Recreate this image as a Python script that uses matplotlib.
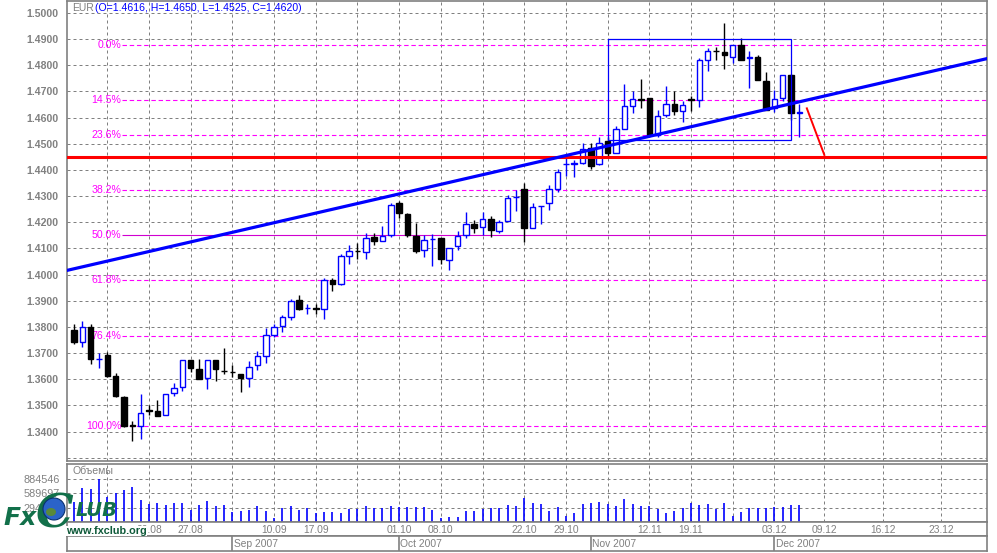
import matplotlib
matplotlib.use('Agg')
import matplotlib.pyplot as plt
from matplotlib.patches import Rectangle, Ellipse
import pandas as pd

plt.rcParams['font.family'] = ['Liberation Sans', 'DejaVu Sans']

# daily EUR bars, 07.08.2007 - 06.12.2007
dates = pd.bdate_range('2007-08-07', '2007-12-06')
opens = [1.3787, 1.3742, 1.3800, 1.3676, 1.3691, 1.3614, 1.3531, 1.3425, 1.3423, 1.3482,
         1.3477, 1.3464, 1.3548, 1.3570, 1.3674, 1.3640, 1.3605, 1.3674, 1.3632, 1.3629,
         1.3621, 1.3606, 1.3653, 1.3688, 1.3770, 1.3802, 1.3838, 1.3902, 1.3872, 1.3871,
         1.3870, 1.3981, 1.3962, 1.4071, 1.4090, 1.4087, 1.4144, 1.4129, 1.4151, 1.4275,
         1.4231, 1.4148, 1.4093, 1.4135, 1.4140, 1.4057, 1.4109, 1.4151, 1.4195, 1.4180,
         1.4212, 1.4167, 1.4206, 1.4296, 1.4327, 1.4179, 1.4261, 1.4272, 1.4326, 1.4423,
         1.4424, 1.4428, 1.4484, 1.4421, 1.4511, 1.4466, 1.4556, 1.4645, 1.4672, 1.4673,
         1.4534, 1.4608, 1.4651, 1.4623, 1.4669, 1.4668, 1.4821, 1.4855, 1.4851, 1.4831,
         1.4876, 1.4828, 1.4831, 1.4739, 1.4636, 1.4673, 1.4762, 1.4616]
highs = [1.3812, 1.3823, 1.3812, 1.3701, 1.3704, 1.3623, 1.3534, 1.3442, 1.3542, 1.3503,
         1.3519, 1.3544, 1.3585, 1.3674, 1.3674, 1.3676, 1.3674, 1.3674, 1.3719, 1.3653,
         1.3621, 1.3668, 1.3706, 1.3796, 1.3812, 1.3844, 1.3908, 1.3923, 1.3889, 1.3886,
         1.3985, 1.3985, 1.4080, 1.4112, 1.4119, 1.4157, 1.4157, 1.4185, 1.4275, 1.4281,
         1.4236, 1.4198, 1.4151, 1.4155, 1.4140, 1.4100, 1.4167, 1.4240, 1.4208, 1.4240,
         1.4223, 1.4208, 1.4304, 1.4323, 1.4349, 1.4275, 1.4263, 1.4342, 1.4402, 1.4451,
         1.4438, 1.4502, 1.4502, 1.4527, 1.4527, 1.4568, 1.4729, 1.4700, 1.4747, 1.4673,
         1.4630, 1.4722, 1.4700, 1.4662, 1.4683, 1.4828, 1.4866, 1.4870, 1.4962, 1.4877,
         1.4904, 1.4856, 1.4840, 1.4775, 1.4705, 1.4762, 1.4766, 1.4650]
lows = [1.3736, 1.3723, 1.3659, 1.3643, 1.3608, 1.3531, 1.3419, 1.3363, 1.3372, 1.3464,
        1.3461, 1.3464, 1.3535, 1.3554, 1.3627, 1.3599, 1.3563, 1.3593, 1.3621, 1.3608,
        1.3551, 1.3570, 1.3636, 1.3662, 1.3761, 1.3780, 1.3828, 1.3866, 1.3848, 1.3851,
        1.3831, 1.3937, 1.3960, 1.4042, 1.4061, 1.4061, 1.4112, 1.4129, 1.4144, 1.4215,
        1.4142, 1.4083, 1.4068, 1.4033, 1.4040, 1.4019, 1.4093, 1.4138, 1.4157, 1.4151,
        1.4144, 1.4157, 1.4206, 1.4244, 1.4125, 1.4179, 1.4193, 1.4246, 1.4317, 1.4378,
        1.4373, 1.4423, 1.4405, 1.4419, 1.4453, 1.4464, 1.4556, 1.4617, 1.4636, 1.4527,
        1.4525, 1.4602, 1.4608, 1.4581, 1.4623, 1.4639, 1.4777, 1.4821, 1.4787, 1.4808,
        1.4821, 1.4713, 1.4742, 1.4629, 1.4622, 1.4663, 1.4590, 1.4525]
closes = [1.3742, 1.3800, 1.3676, 1.3678, 1.3611, 1.3534, 1.3423, 1.3423, 1.3471, 1.3480,
          1.3461, 1.3544, 1.3567, 1.3674, 1.3643, 1.3599, 1.3674, 1.3640, 1.3631, 1.3627,
          1.3606, 1.3646, 1.3687, 1.3768, 1.3800, 1.3838, 1.3899, 1.3870, 1.3874, 1.3869,
          1.3981, 1.3962, 1.4072, 1.4091, 1.4089, 1.4138, 1.4129, 1.4148, 1.4266, 1.4236,
          1.4151, 1.4091, 1.4132, 1.4136, 1.4061, 1.4100, 1.4147, 1.4195, 1.4179, 1.4211,
          1.4170, 1.4202, 1.4291, 1.4298, 1.4179, 1.4259, 1.4263, 1.4326, 1.4391, 1.4424,
          1.4426, 1.4479, 1.4416, 1.4502, 1.4466, 1.4556, 1.4645, 1.4670, 1.4666, 1.4534,
          1.4604, 1.4653, 1.4623, 1.4646, 1.4668, 1.4819, 1.4853, 1.4853, 1.4838, 1.4877,
          1.4821, 1.4831, 1.4742, 1.4629, 1.4670, 1.4762, 1.4618, 1.4620]
volumes = [420000, 704900, 677200, 884546, 504400, 587400, 656500, 725600, 449200, 380100,
           393900, 345500, 393900, 393900, 255700, 345500, 428400, 324800, 345500, 200400,
           221100, 241900, 324800, 221100, 76000, 283300, 324800, 241900, 297100, 186600,
           200400, 200400, 186600, 262600, 262600, 324800, 283300, 283300, 324800, 311000,
           311000, 311000, 311000, 241900, 76000, 103700, 103700, 221100, 221100, 262600,
           283300, 283300, 345500, 324800, 497600, 393900, 366300, 221100, 304100, 117500,
           179700, 366300, 387000, 407700, 366300, 324800, 469900, 366300, 324800, 324800,
           262600, 179700, 221100, 283300, 387000, 345500, 366300, 269500, 387000, 117500,
           200400, 283300, 283300, 283300, 304100, 304100, 345500, 345500]

# drawn objects
fib_high = 1.4877
fib_low = 1.3423
fib_ratios = [0.0, 0.145, 0.236, 0.382, 0.5, 0.618, 0.764, 1.0]
support_level = 1.4450
trend_dates = ['2007-08-07', '2007-12-06']
trend_prices = [1.4022, 1.4660]
box_dates = ['2007-11-05', '2007-12-05']
box_prices = [1.4514, 1.4900]
arrow_prices = [1.4635, 1.4457]

date_labels = ['20.08', '27.08', '10.09', '17.09', '01.10', '08.10', '22.10', '29.10',
               '12.11', '19.11', '03.12', '09.12', '16.12', '23.12']
grid_dates = ['13.08', '20.08', '27.08', '03.09', '10.09', '17.09', '24.09', '01.10',
              '08.10', '15.10', '22.10', '29.10', '05.11', '12.11', '19.11', '26.11',
              '03.12', '09.12', '16.12', '23.12']
months = ['Sep 2007', 'Oct 2007', 'Nov 2007', 'Dec 2007']
month_starts = ['2007-09-03', '2007-10-01', '2007-11-01', '2007-12-03']


def pos(d):
    d = pd.Timestamp(d)
    if d <= dates[-1]:
        return dates.get_loc(d)
    return len(dates) - 1 + (d - dates[-1]).days


def dm(s):
    return pos('2007-%s-%s' % (s[3:], s[:2]))


W, H = 997, 553
GRAY = '#808080'
MAG = '#ff00ff'
BLUE = '#0000ff'


def rect(l, t, r, b):
    return [l / W, 1 - b / H, (r - l) / W, (b - t) / H]


fig = plt.figure(figsize=(W / 100, H / 100), dpi=100)
xlim = (-0.9, 109.45)

ax = fig.add_axes(rect(66.5, 1, 986.5, 461))
axv = fig.add_axes(rect(66.5, 463.5, 986.5, 522))
axd = fig.add_axes(rect(66.5, 522, 986.5, 536))
axm = fig.add_axes(rect(66.5, 536, 986.5, 550.5))

for a in (ax, axv, axd, axm):
    a.set_xlim(*xlim)
    for s in a.spines.values():
        s.set_color(GRAY)
        s.set_linewidth(1.2)
    a.set_xticks([])

grid_x = [dm(g) for g in grid_dates]
gkw = dict(color=GRAY, lw=0.72, ls=(0, (3, 3)), zorder=0)

# price panel
ax.set_ylim(1.32875, 1.50452)
yt = [1.33 + 0.01 * k for k in range(18)]
ax.set_yticks(yt)
ax.set_yticklabels([''] + ['%.4f' % v for v in yt[1:]], fontweight='bold',
                   color=GRAY, fontsize=7.6)
ax.tick_params(axis='y', length=0, pad=5.8)
for v in yt:
    ax.axhline(v, **gkw)
for gx in grid_x:
    ax.axvline(gx, **gkw)

# fibonacci levels
fib_x0 = 5.75
for r in fib_ratios:
    lvl = fib_high - r * (fib_high - fib_low)
    if r == 0.5:
        ax.hlines(lvl, fib_x0, xlim[1], color='#d000d0', lw=0.8, zorder=1)
    else:
        ax.hlines(lvl, fib_x0, xlim[1], color=MAG, lw=0.8, ls=(0, (4, 2.5)), zorder=1)
    ax.text(fib_x0 - 0.1, lvl, '%.1f%%' % (r * 100), color=MAG, fontsize=7.6,
            ha='right', va='center', zorder=1)

# candles
bw = 0.66
for i in range(len(dates)):
    o, h, l, c = opens[i], highs[i], lows[i], closes[i]
    up = c >= o
    col = BLUE if up else 'black'
    ax.vlines(i, l, h, color=col, lw=1.0, zorder=3)
    ax.add_patch(Rectangle((i - bw / 2, min(o, c)), bw, abs(c - o),
                           facecolor='white' if up else 'black', edgecolor=col,
                           lw=1.0, zorder=4))

# support line, trend line, box, projection
ax.axhline(support_level, color='#ff0000', lw=2.2, zorder=5)
t0, t1 = pos(trend_dates[0]), pos(trend_dates[1])
slope = (trend_prices[1] - trend_prices[0]) / (t1 - t0)
ax.plot(xlim, [trend_prices[0] + slope * (x - t0) for x in xlim], color=BLUE,
        lw=2.3, zorder=6)
b0, b1 = pos(box_dates[0]), pos(box_dates[1])
ax.add_patch(Rectangle((b0, box_prices[0]), b1 - b0, box_prices[1] - box_prices[0],
                       fill=False, edgecolor=BLUE, lw=0.9, zorder=6))
ax.plot([len(dates) - 0.1, len(dates) + 2.0], arrow_prices, color='#ff0000', lw=1.4,
        zorder=6)

ax.text(0.0065, 0.985, 'EUR', transform=ax.transAxes, color=GRAY, fontsize=7.5,
        ha='left', va='center')
ax.text(0.0305, 0.985, '(O=%.4f, H=%.4f, L=%.4f, C=%.4f)' %
        (opens[-1], highs[-1], lows[-1], closes[-1]), transform=ax.transAxes,
        color=BLUE, fontsize=7.6, ha='left', va='center')

# volume panel
vmax = max(volumes)
axv.set_ylim(0, vmax * 58.5 / 43)
vt = [vmax / 3, vmax * 2 / 3, vmax]
axv.set_yticks(vt)
axv.set_yticklabels(['%d' % v for v in vt], color=GRAY, fontsize=7.8)
axv.tick_params(axis='y', length=0, pad=5)
for v in vt:
    axv.axhline(v, **gkw)
for gx in grid_x:
    axv.axvline(gx, **gkw)
axv.vlines(range(len(volumes)), 0, volumes, color=BLUE, lw=1.2, zorder=3)
axv.text(0.006, 0.88, 'Объемы', transform=axv.transAxes, color=GRAY, fontsize=7.6,
         ha='left', va='center')

# date row and month row
axd.set_yticks([])
for lab in date_labels:
    axd.text(dm(lab), 0.45, lab, color=GRAY, fontsize=7.4, ha='center', va='center',
             transform=axd.get_xaxis_transform())
axm.set_yticks([])
for name, d in zip(months, month_starts):
    p = pos(d)
    axm.axvline(p, color=GRAY, lw=1.2)
    axm.text(p + 0.15, 0.45, name, color=GRAY, fontsize=7.4, ha='left', va='center',
             transform=axm.get_xaxis_transform())

# fxclub logo
GREEN = '#12704a'
fig.text(3 / W, 1 - 518 / H, 'Fx', color=GREEN, fontsize=18, fontweight='bold',
         style='italic', family='DejaVu Sans', ha='left', va='center')
fig.text(36 / W, 1 - 514 / H, 'C', color=GREEN, fontsize=34, fontweight='bold',
         style='italic', family='DejaVu Serif', ha='left', va='center')
fig.add_artist(Ellipse((54 / W, 1 - 509 / H), 22 / W, 22 / H, transform=fig.transFigure,
                       facecolor='#2b63c8', edgecolor='#0a3070', lw=0.8, zorder=5))
fig.add_artist(Ellipse((51 / W, 1 - 512 / H), 10 / W, 8 / H, transform=fig.transFigure,
                       facecolor='#5a8a3a', edgecolor='none', zorder=6))
fig.text(76 / W, 1 - 511 / H, 'LUB', color=GREEN, fontsize=14, fontweight='bold',
         style='italic', family='DejaVu Sans', ha='left', va='center', zorder=6)
fig.text(66 / W, 1 - 531 / H, 'www.fxclub.org', color='#0f5a3a', fontsize=7.8,
         fontweight='bold', ha='left', va='center', zorder=6,
         bbox=dict(facecolor='white', edgecolor='none', pad=0.3))

fig.savefig('out.png', dpi=100)
